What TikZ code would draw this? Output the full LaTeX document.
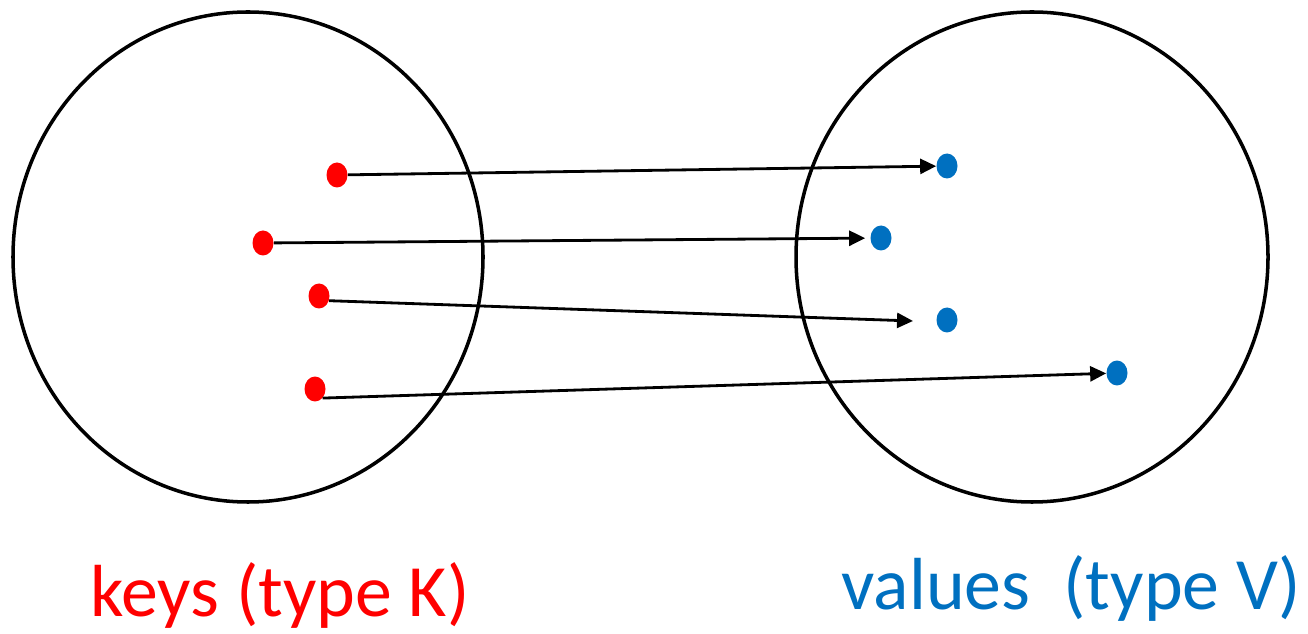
\documentclass[tikz,border=0pt]{standalone}
\usepackage{fontspec}
\setmainfont{Carlito}
\usetikzlibrary{arrows.meta,shapes.geometric}
\definecolor{keyred}{RGB}{255,0,0}
\definecolor{valblue}{RGB}{0,112,192}
\definecolor{linedark}{RGB}{0,0,0}

\begin{document}
\begin{tikzpicture}[x=0.02cm,y=-0.02cm,
    setring/.style={draw=linedark,line width=2pt},
    keydot/.style={ellipse,fill=keyred,inner sep=0pt,minimum width=0.42cm,minimum height=0.5cm},
    valdot/.style={ellipse,fill=valblue,inner sep=0pt,minimum width=0.42cm,minimum height=0.5cm},
    maparrow/.style={draw=linedark,line width=1.6pt,-{Triangle[length=0.32cm,width=0.3cm]}},
    setlabel/.style={font=\fontsize{42}{48}\selectfont,anchor=base}]
  % page frame ~1308x634
  \useasboundingbox (0,0) rectangle (1308,634);

  % --- the two sets ---
  \draw[setring] (248,257) ellipse [x radius=235, y radius=245];
  \draw[setring] (1032,257) ellipse [x radius=236, y radius=245];

  % --- keys ---
  \node[keydot] (k1) at (337,175) {};
  \node[keydot] (k2) at (263,243) {};
  \node[keydot] (k3) at (319,296) {};
  \node[keydot] (k4) at (315,389) {};

  % --- values ---
  \node[valdot] (v1) at (947,166) {};
  \node[valdot] (v2) at (881,238) {};
  \node[valdot] (v3) at (947,320) {};
  \node[valdot] (v4) at (1117,373) {};

  % loose arrow end, short of v3
  \coordinate (t3) at (913,321);

  % --- mapping ---
  \draw[maparrow] (k1) -- (v1);
  \draw[maparrow,shorten >=0.1cm] (k2) -- (v2);
  \draw[maparrow] (k3.-25) -- (t3);
  \draw[maparrow] (k4.south east) -- (v4);

  % labels
  \node[setlabel,text=keyred] (keylabel) at (280,616) {keys (type K)};
  \node[setlabel,text=valblue] (vallabel) at (1071,609) {values\ \ (type V)};

\end{tikzpicture}
\end{document}
